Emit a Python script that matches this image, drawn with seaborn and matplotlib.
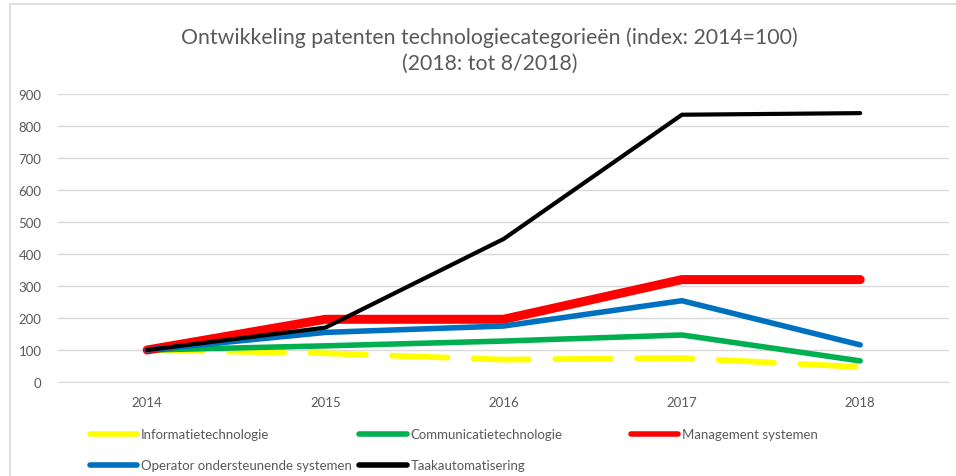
import numpy as np
import pandas as pd
import matplotlib
matplotlib.use("Agg")
import matplotlib.pyplot as plt
import seaborn as sns
from matplotlib.patches import Rectangle

# data (index: 2014 = 100)
years = ["2014", "2015", "2016", "2017", "2018"]
informatie = [100, 90, 70, 75, 47]
communicatie = [100, 113, 128, 147, 66]
management = [100, 196, 196, 320, 320]
operator = [100, 155, 175, 254, 116]
taak = [100, 170, 447, 835, 840]

series_names = ["Informatietechnologie", "Communicatietechnologie",
                "Management systemen", "Operator ondersteunende systemen",
                "Taakautomatisering"]
series_values = [informatie, communicatie, management, operator, taak]

colors = ["#FFFF00", "#00B050", "#FF0000", "#0070C0", "#000000"]
widths = [4.2, 4.0, 6.5, 4.0, 3.0]

sns.set_style("white")
plt.rcParams["font.family"] = ["Lato", "DejaVu Sans"]
text_col = "#595959"

rows = []
for name, vals in zip(series_names, series_values):
    for i, v in enumerate(vals):
        rows.append({"pos": i, "year": years[i], "serie": name, "waarde": v})
df = pd.DataFrame(rows)

fig = plt.figure(figsize=(9.56, 4.77), dpi=100)
ax = fig.add_axes([0.0607, 0.197, 0.9323, 0.604])

# draw order: yellow, green, blue, red, black on top
order = [0, 1, 3, 2, 4]
for k in order:
    name = series_names[k]
    sub = df[df["serie"] == name]
    sns.lineplot(data=sub, x="pos", y="waarde", ax=ax, color=colors[k],
                 linewidth=widths[k], label=name, legend=False,
                 solid_capstyle="round", solid_joinstyle="miter",
                 zorder=3 + k)

# dashed yellow line
yl = ax.get_lines()[0]
yl.set_linestyle((0, (9.5, 4.5)))
yl.set_dash_capstyle("round")

ax.set_xlim(-0.5, 4.5)
ax.set_ylim(0, 900)
ax.set_yticks(range(0, 901, 100))
ax.set_xticks(range(len(years)))
ax.set_xticklabels(years)
ax.set_xlabel("")
ax.set_ylabel("")
ax.grid(axis="y", color="#d9d9d9", linewidth=1)
ax.set_axisbelow(True)
for s in ["top", "right", "left"]:
    ax.spines[s].set_visible(False)
ax.spines["bottom"].set_color("#d9d9d9")
ax.tick_params(axis="both", length=0, labelsize=9.5, colors=text_col)
ax.tick_params(axis="y", pad=12)
ax.tick_params(axis="x", pad=10)

fig.suptitle("Ontwikkeling patenten technologiecategorieën (index: 2014=100)\n(2018: tot 8/2018)",
             x=0.512, y=0.942, fontsize=15.3, color=text_col, linespacing=1.35)

handles, labels = ax.get_legend_handles_labels()
lookup = dict(zip(labels, handles))
# one legend per column so the columns sit where Excel put them
legend_cols = [[0, 3], [1, 4], [2]]
col_x = [0.094, 0.376, 0.660]
for cx, idx in zip(col_x, legend_cols):
    leg = fig.legend([lookup[series_names[i]] for i in idx],
                     [series_names[i] for i in idx], loc="upper left",
                     bbox_to_anchor=(cx, 0.1), ncol=1, frameon=False,
                     fontsize=9.5, handlelength=3.6, handletextpad=0.25,
                     labelspacing=1.45, borderaxespad=0, borderpad=0)
    for t in leg.get_texts():
        t.set_color(text_col)
    for ln in leg.get_lines():
        ln.set_linewidth(4.0)
        ln.set_linestyle("-")
        ln.set_solid_capstyle("round")

# outer chart border
fig.patches.append(Rectangle((10 / 956, -0.05), 1.2, 1 - 5 / 477 + 0.05,
                             transform=fig.transFigure, fill=False,
                             edgecolor="#d9d9d9", linewidth=1.2))

fig.savefig("out.png", dpi=100)
